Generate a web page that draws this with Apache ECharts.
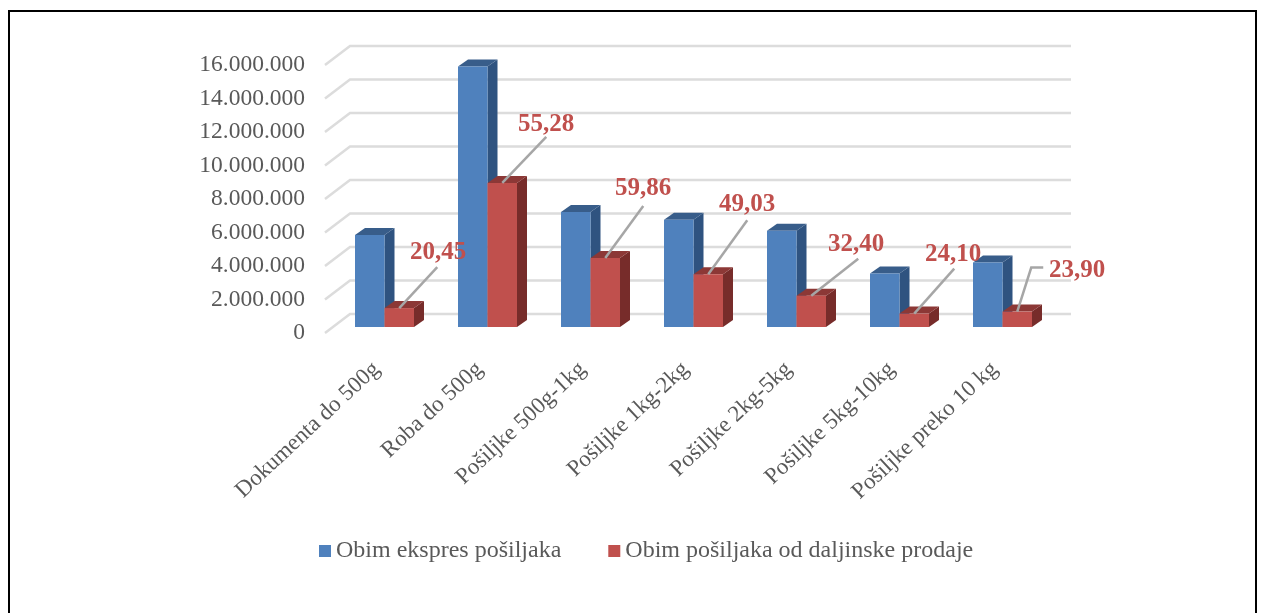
<!DOCTYPE html>
<html><head><meta charset="utf-8">
<style>html,body{margin:0;padding:0;background:#fff}#c{width:1265px;height:613px}</style>
<script src="https://cdn.jsdelivr.net/npm/echarts@6/dist/echarts.min.js"></script>
</head><body><div id="c"></div>
<script>
const categories = ['Dokumenta do 500g','Roba do 500g','Pošiljke 500g-1kg','Pošiljke 1kg-2kg','Pošiljke 2kg-5kg','Pošiljke 5kg-10kg','Pošiljke preko 10 kg'];
const expressVolumes = [5500000,15550000,6870000,6400000,5750000,3200000,3850000];
const remoteVolumes = [1130000,8600000,4120000,3150000,1870000,800000,920000];
const remoteShares = [20.45,55.28,59.86,49.03,32.40,24.10,23.90];
const tickValues = [0,2000000,4000000,6000000,8000000,10000000,12000000,14000000,16000000];
const expressName = 'Obim ekspres pošiljaka';
const remoteName = 'Obim pošiljaka od daljinske prodaje';

// Leader-line routes, in pixels from the top of each red bar.
const leaderRoutes = [
  [[0,0],[38,-41]],[[0,0],[44,-46]],[[0,0],[38,-52]],[[0,0],[39,-54]],
  [[0,0],[47,-37]],[[0,0],[40,-45]],[[0,0],[14,-44],[26,-44]]
];
const labelOffsets = [[39,-56],[44,-58],[38,-69],[39,-70],[45,-51],[39,-59],[60,-41]];

const FONT = '"Liberation Serif","Times New Roman",serif';
const WALL_X = 25, WALL_Y = -19, FLOOR_X = 8, FLOOR_Y = -6, SIDE_X = 10, SIDE_Y = -7, BAR_RATIO = 0.2864;

function barRender(side, front, dark, top) {
  return function (params, api) {
    const cat = api.value(0), val = api.value(1);
    const t = api.coord([cat, val]), b = api.coord([cat, 0]);
    const w = api.size([1, 0])[0] * BAR_RATIO;
    const x0 = b[0] + FLOOR_X + (side === 0 ? -w : 0), x1 = x0 + w;
    const y0 = b[1] + FLOOR_Y, y1 = t[1] + FLOOR_Y;
    return { type: 'group', children: [
      { type: 'polygon', shape: { points: [[x1,y0],[x1+SIDE_X,y0+SIDE_Y],[x1+SIDE_X,y1+SIDE_Y],[x1,y1]] }, style: { fill: dark } },
      { type: 'polygon', shape: { points: [[x0,y1],[x1,y1],[x1+SIDE_X,y1+SIDE_Y],[x0+SIDE_X,y1+SIDE_Y]] }, style: { fill: top } },
      { type: 'rect', shape: { x: x0, y: y1, width: w, height: y0 - y1 }, style: { fill: front } }
    ]};
  };
}

const chart = echarts.init(document.getElementById('c'), null, { renderer: 'canvas' });
chart.setOption({
  animation: false,
  backgroundColor: '#fff',
  grid: { left: 325, right: 219, top: 65, bottom: 280, containLabel: false },
  xAxis: { type: 'category', data: categories,
    axisLine: { show: false }, axisTick: { show: false }, splitLine: { show: false },
    axisLabel: { rotate: 43, interval: 0, margin: 33, fontFamily: FONT, fontSize: 23, color: '#595959' } },
  yAxis: { type: 'value', min: 0, max: 16000000, interval: 2000000,
    axisLine: { show: false }, axisTick: { show: false }, splitLine: { show: false },
    axisLabel: { margin: 20, fontFamily: FONT, fontSize: 23.5, color: '#595959', padding: [4, 0, 0, 0],
      formatter: v => String(v).replace(/\B(?=(\d{3})+$)/g, '.') } },
  legend: { left: 314, top: 534, itemGap: 47, itemWidth: 12, itemHeight: 12, icon: 'rect',
    data: [expressName, remoteName],
    textStyle: { fontFamily: FONT, fontSize: 24, color: '#595959' } },
  graphic: [{ type: 'polyline', silent: true,
    shape: { points: [[9,613],[9,11],[1256,11],[1256,613]] },
    style: { stroke: '#000', lineWidth: 2, fill: 'none' } }],
  series: [
    { type: 'custom', name: 'grid', silent: true, z: 1, clip: false,
      encode: { x: 0, y: 1 },
      data: tickValues.map(v => [0, v]),
      renderItem: (p, api) => {
        const a = api.coord([0, api.value(1)]);
        const band = api.size([1, 0])[0];
        const x0 = a[0] - band / 2, y = a[1];
        return { type: 'polyline',
          shape: { points: [[x0,y],[x0+WALL_X,y+WALL_Y],[x0+WALL_X+band*categories.length,y+WALL_Y]] },
          style: { stroke: '#dcdcdc', lineWidth: 2.5, fill: 'none' } };
      } },
    { type: 'custom', name: expressName, z: 2, clip: false, itemStyle: { color: '#4f81bd' },
      encode: { x: 0, y: 1 },
      data: expressVolumes.map((v, i) => [i, v]),
      renderItem: barRender(0, '#4f81bd', '#2f5380', '#385d8a') },
    { type: 'custom', name: remoteName, z: 3, clip: false, itemStyle: { color: '#c0504d' },
      encode: { x: 0, y: 1 },
      data: remoteVolumes.map((v, i) => [i, v]),
      renderItem: barRender(1, '#c0504d', '#772c2a', '#8c3836') },
    { type: 'custom', name: 'labels', silent: true, z: 4, clip: false,
      encode: { x: 0, y: 1 },
      data: remoteVolumes.map((v, i) => [i, v, remoteShares[i]]),
      renderItem: (p, api) => {
        const i = api.value(0);
        const t = api.coord([i, api.value(1)]), b = api.coord([i, 0]);
        const w = api.size([1, 0])[0] * BAR_RATIO;
        const ax = b[0] + FLOOR_X + w / 2, ay = t[1] + FLOOR_Y;
        return { type: 'group', children: [
          { type: 'polyline', shape: { points: leaderRoutes[i].map(q => [ax + q[0], ay + q[1]]) },
            style: { stroke: '#a6a6a6', lineWidth: 2.5, fill: 'none' } },
          { type: 'text', x: ax + labelOffsets[i][0], y: ay + labelOffsets[i][1],
            style: { text: api.value(2).toFixed(2).replace('.', ','), align: 'center', verticalAlign: 'middle',
              font: 'bold 25px ' + FONT, fill: '#c0504d' } }
        ]};
      } }
  ]
});
</script></body></html>
